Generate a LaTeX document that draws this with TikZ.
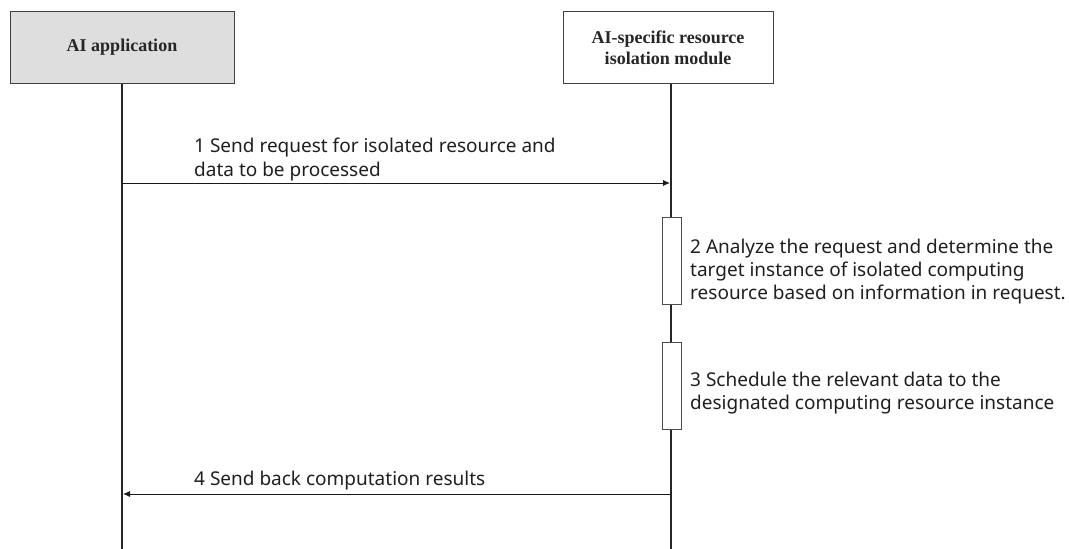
\documentclass[tikz,border=0pt]{standalone}
\usepackage{fontspec}
\setmainfont{Liberation Serif}
\newfontfamily\msgfont{Noto Sans}
\usetikzlibrary{arrows.meta}
\begin{document}
\begin{tikzpicture}[x=1pt,y=-1pt,
  actor/.style={draw=black!75,line width=0.9pt,minimum width=#1,minimum height=72pt,
    inner sep=0pt,align=center,font=\fontsize{18}{21}\selectfont\bfseries,text=black!85},
  lifeline/.style={line width=2.4pt,draw=black!85},
  activation/.style={draw=black!70,fill=white,line width=0.8pt,minimum width=19pt,inner sep=0pt},
  msg/.style={line width=0.9pt,draw=black!90,-{Latex[length=7pt,width=6pt]}},
  msgtext/.style={anchor=west,align=left,inner sep=0pt,text=black!88,
    font=\msgfont\fontsize{19}{23}\selectfont}]
\useasboundingbox (0,0) rectangle (1069,549);
% participants
\node[actor=224pt,fill=black!13] (app) at (122,47.5) {AI application};
\node[actor=210pt,fill=white] (iso) at (668,47.5) {AI-specific resource\\isolation module};
% lifelines
\coordinate (appEnd) at (122,549);
\coordinate (isoEnd) at (671,549);
\draw[lifeline] (app.south -| appEnd) -- (appEnd);
\draw[lifeline] (iso.south -| isoEnd) -- (isoEnd);
% activation bars
\node[activation,minimum height=87pt] (act1) at (671.5,260.5) {};
\node[activation,minimum height=87pt] (act2) at (671.5,385.5) {};
% message 1
\coordinate (m1s) at (122,183);
\coordinate (m1e) at (670,183);
\draw[msg] (m1s) -- (m1e);
\node[msgtext] (t1) at (194,160) {1 Send request for isolated resource and\\[1pt]data to be processed};
% step 2
\node[msgtext] (t2) at (690,272) {2 Analyze the request and determine the\\target instance of isolated computing\\resource based on information in request.};
% step 3
\node[msgtext] (t3) at (690,393) {3 Schedule the relevant data to the\\designated computing resource instance};
% message 4
\coordinate (m4s) at (671,494);
\coordinate (m4e) at (123,494);
\draw[msg] (m4s) -- (m4e);
\node[msgtext] (t4) at (194,481) {4 Send back computation results};
\end{tikzpicture}
\end{document}
